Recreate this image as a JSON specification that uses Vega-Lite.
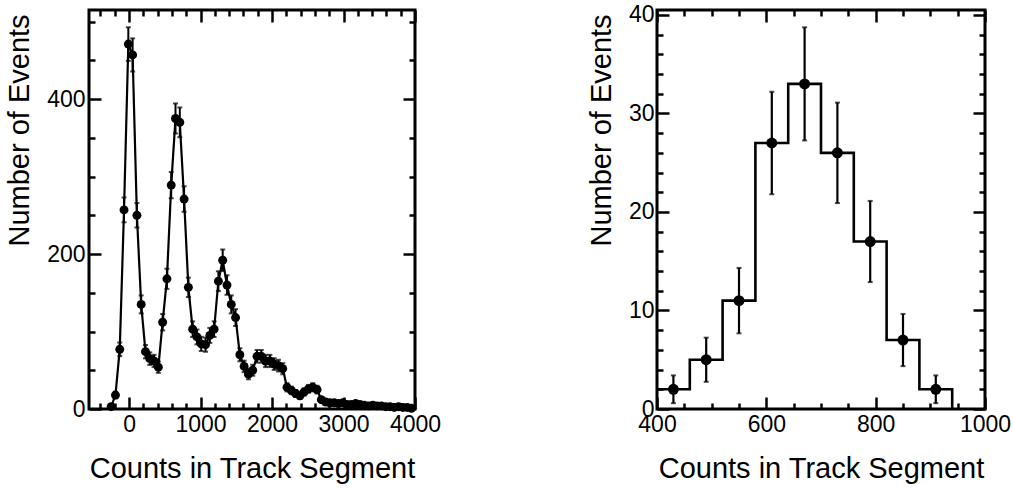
{
  "$schema": "https://vega.github.io/schema/vega-lite/v6.json",
  "background": "white",
  "padding": {"left": 4, "top": 2, "right": 5, "bottom": 5},
  "spacing": 142,
  "config": {
    "view": {"stroke": "black", "strokeWidth": 3},
    "font": "Liberation Sans",
    "axis": {"domain": false, "grid": false, "tickColor": "black", "tickWidth": 2.5, "labelFont": "Liberation Sans", "labelFontSize": 23, "labelColor": "black", "titleFont": "Liberation Sans", "titleFontSize": 29, "titleFontWeight": "normal", "titleColor": "black", "labelFlush": false, "labelOverlap": false, "format": "d"}
  },
  "datasets": {
    "left": [
      {"x": -250, "y": 3, "lo": 1.3, "hi": 4.7},
      {"x": -190, "y": 18, "lo": 13.8, "hi": 22.2},
      {"x": -130, "y": 77, "lo": 68.2, "hi": 85.8},
      {"x": -70, "y": 257, "lo": 241, "hi": 273},
      {"x": -10, "y": 471, "lo": 449.3, "hi": 492.7},
      {"x": 50, "y": 457, "lo": 435.6, "hi": 478.4},
      {"x": 110, "y": 250, "lo": 234.2, "hi": 265.8},
      {"x": 170, "y": 135, "lo": 123.4, "hi": 146.6},
      {"x": 230, "y": 74, "lo": 65.4, "hi": 82.6},
      {"x": 290, "y": 65, "lo": 56.9, "hi": 73.1},
      {"x": 350, "y": 62, "lo": 54.1, "hi": 69.9},
      {"x": 410, "y": 54, "lo": 46.7, "hi": 61.3},
      {"x": 470, "y": 112, "lo": 101.4, "hi": 122.6},
      {"x": 530, "y": 168, "lo": 155, "hi": 181},
      {"x": 590, "y": 289, "lo": 272, "hi": 306},
      {"x": 650, "y": 375, "lo": 355.6, "hi": 394.4},
      {"x": 710, "y": 370, "lo": 350.8, "hi": 389.2},
      {"x": 770, "y": 271, "lo": 254.5, "hi": 287.5},
      {"x": 830, "y": 157, "lo": 144.5, "hi": 169.5},
      {"x": 890, "y": 103, "lo": 92.9, "hi": 113.1},
      {"x": 950, "y": 93, "lo": 83.4, "hi": 102.6},
      {"x": 1010, "y": 84, "lo": 74.8, "hi": 93.2},
      {"x": 1070, "y": 83, "lo": 73.9, "hi": 92.1},
      {"x": 1130, "y": 95, "lo": 85.3, "hi": 104.7},
      {"x": 1190, "y": 103, "lo": 92.9, "hi": 113.1},
      {"x": 1250, "y": 165, "lo": 152.2, "hi": 177.8},
      {"x": 1310, "y": 192, "lo": 178.1, "hi": 205.9},
      {"x": 1370, "y": 160, "lo": 147.4, "hi": 172.6},
      {"x": 1430, "y": 135, "lo": 123.4, "hi": 146.6},
      {"x": 1490, "y": 118, "lo": 107.1, "hi": 128.9},
      {"x": 1550, "y": 70, "lo": 61.6, "hi": 78.4},
      {"x": 1610, "y": 55, "lo": 47.6, "hi": 62.4},
      {"x": 1670, "y": 45, "lo": 38.3, "hi": 51.7},
      {"x": 1730, "y": 50, "lo": 42.9, "hi": 57.1},
      {"x": 1790, "y": 68, "lo": 59.8, "hi": 76.2},
      {"x": 1850, "y": 68, "lo": 59.8, "hi": 76.2},
      {"x": 1910, "y": 62, "lo": 54.1, "hi": 69.9},
      {"x": 1970, "y": 62, "lo": 54.1, "hi": 69.9},
      {"x": 2030, "y": 58, "lo": 50.4, "hi": 65.6},
      {"x": 2090, "y": 56, "lo": 48.5, "hi": 63.5},
      {"x": 2150, "y": 52, "lo": 44.8, "hi": 59.2},
      {"x": 2210, "y": 28, "lo": 22.7, "hi": 33.3},
      {"x": 2270, "y": 24, "lo": 19.1, "hi": 28.9},
      {"x": 2330, "y": 20, "lo": 15.5, "hi": 24.5},
      {"x": 2390, "y": 17, "lo": 12.9, "hi": 21.1},
      {"x": 2450, "y": 22, "lo": 17.3, "hi": 26.7},
      {"x": 2510, "y": 26, "lo": 20.9, "hi": 31.1},
      {"x": 2570, "y": 28, "lo": 22.7, "hi": 33.3},
      {"x": 2630, "y": 25, "lo": 20, "hi": 30},
      {"x": 2690, "y": 12, "lo": 8.5, "hi": 15.5},
      {"x": 2750, "y": 9, "lo": 6, "hi": 12},
      {"x": 2810, "y": 8, "lo": 5.2, "hi": 10.8},
      {"x": 2870, "y": 8, "lo": 5.2, "hi": 10.8},
      {"x": 2930, "y": 7, "lo": 4.4, "hi": 9.6},
      {"x": 2990, "y": 8, "lo": 5.2, "hi": 10.8},
      {"x": 3050, "y": 6, "lo": 3.6, "hi": 8.4},
      {"x": 3110, "y": 6, "lo": 3.6, "hi": 8.4},
      {"x": 3170, "y": 7, "lo": 4.4, "hi": 9.6},
      {"x": 3230, "y": 6, "lo": 3.6, "hi": 8.4},
      {"x": 3290, "y": 5, "lo": 2.8, "hi": 7.2},
      {"x": 3350, "y": 4, "lo": 2, "hi": 6},
      {"x": 3410, "y": 5, "lo": 2.8, "hi": 7.2},
      {"x": 3470, "y": 4, "lo": 2, "hi": 6},
      {"x": 3530, "y": 4, "lo": 2, "hi": 6},
      {"x": 3590, "y": 3, "lo": 1.3, "hi": 4.7},
      {"x": 3650, "y": 3, "lo": 1.3, "hi": 4.7},
      {"x": 3710, "y": 2, "lo": 0.6, "hi": 3.4},
      {"x": 3770, "y": 3, "lo": 1.3, "hi": 4.7},
      {"x": 3830, "y": 2, "lo": 0.6, "hi": 3.4},
      {"x": 3890, "y": 2, "lo": 0.6, "hi": 3.4},
      {"x": 3950, "y": 1, "lo": 0, "hi": 2}
    ],
    "rightPts": [
      {"x": 430, "y": 2, "lo": 0.59, "hi": 3.41},
      {"x": 490, "y": 5, "lo": 2.76, "hi": 7.24},
      {"x": 550, "y": 11, "lo": 7.68, "hi": 14.32},
      {"x": 610, "y": 27, "lo": 21.8, "hi": 32.2},
      {"x": 670, "y": 33, "lo": 27.26, "hi": 38.74},
      {"x": 730, "y": 26, "lo": 20.9, "hi": 31.1},
      {"x": 790, "y": 17, "lo": 12.88, "hi": 21.12},
      {"x": 850, "y": 7, "lo": 4.35, "hi": 9.65},
      {"x": 910, "y": 2, "lo": 0.59, "hi": 3.41}
    ],
    "rightSteps": [
      {"edge": 400, "count": 2},
      {"edge": 460, "count": 5},
      {"edge": 520, "count": 11},
      {"edge": 580, "count": 27},
      {"edge": 640, "count": 33},
      {"edge": 700, "count": 26},
      {"edge": 760, "count": 17},
      {"edge": 820, "count": 7},
      {"edge": 880, "count": 2},
      {"edge": 940, "count": 0}
    ]
  },
  "hconcat": [
    {
      "width": 326,
      "height": 399,
      "resolve": {"axis": {"x": "independent", "y": "independent"}},
      "layer": [
        {
          "data": {"name": "left"},
          "mark": {"type": "line", "color": "black", "strokeWidth": 2.2},
          "encoding": {
            "x": {"field": "x", "type": "quantitative", "scale": {"domain": [-560, 4000], "nice": false, "zero": false},
              "axis": {"orient": "bottom", "values": [0, 1000, 2000, 3000, 4000], "tickSize": -12, "labelPadding": 16, "title": "Counts in Track Segment", "titlePadding": 18}},
            "y": {"field": "y", "type": "quantitative", "scale": {"domain": [0, 515], "nice": false},
              "axis": {"orient": "left", "values": [0, 200, 400], "tickSize": -12, "labelPadding": 16, "title": "Number of Events", "titlePadding": 12, "titleY": 236, "titleAlign": "left"}}
          }
        },
        {
          "data": {"name": "left"},
          "mark": {"type": "rule", "color": "black", "strokeWidth": 2},
          "encoding": {
            "x": {"field": "x", "type": "quantitative", "scale": {"domain": [-560, 4000], "nice": false, "zero": false},
              "axis": {"orient": "bottom", "values": [-400, -200, 200, 400, 600, 800, 1200, 1400, 1600, 1800, 2200, 2400, 2600, 2800, 3200, 3400, 3600, 3800], "tickSize": -6, "labels": false, "title": null}},
            "y": {"field": "lo", "type": "quantitative", "scale": {"domain": [0, 515], "nice": false},
              "axis": {"orient": "left", "values": [50, 100, 150, 250, 300, 350, 450, 500], "tickSize": -6, "labels": false, "title": null}},
            "y2": {"field": "hi"}
          }
        },
        {
          "data": {"name": "left"},
          "mark": {"type": "point", "shape": "circle", "filled": true, "color": "black", "opacity": 1, "size": 80},
          "encoding": {
            "x": {"field": "x", "type": "quantitative", "scale": {"domain": [-560, 4000], "nice": false, "zero": false},
              "axis": {"orient": "top", "values": [0, 1000, 2000, 3000, 4000], "tickSize": -12, "labels": false, "title": null}},
            "y": {"field": "y", "type": "quantitative", "scale": {"domain": [0, 515], "nice": false},
              "axis": {"orient": "right", "values": [0, 200, 400], "tickSize": -12, "labels": false, "title": null}}
          }
        },
        {
          "data": {"name": "left"},
          "mark": {"type": "tick", "orient": "horizontal", "color": "black", "size": 5, "thickness": 2},
          "encoding": {
            "x": {"field": "x", "type": "quantitative", "scale": {"domain": [-560, 4000], "nice": false, "zero": false},
              "axis": {"orient": "top", "values": [-400, -200, 200, 400, 600, 800, 1200, 1400, 1600, 1800, 2200, 2400, 2600, 2800, 3200, 3400, 3600, 3800], "tickSize": -6, "labels": false, "title": null}},
            "y": {"field": "hi", "type": "quantitative", "scale": {"domain": [0, 515], "nice": false},
              "axis": {"orient": "right", "values": [50, 100, 150, 250, 300, 350, 450, 500], "tickSize": -6, "labels": false, "title": null}}
          }
        },
        {
          "data": {"name": "left"},
          "mark": {"type": "tick", "orient": "horizontal", "color": "black", "size": 5, "thickness": 2},
          "encoding": {
            "x": {"field": "x", "type": "quantitative", "scale": {"domain": [-560, 4000], "nice": false, "zero": false}, "axis": null},
            "y": {"field": "lo", "type": "quantitative", "scale": {"domain": [0, 515], "nice": false}, "axis": null}
          }
        }
      ]
    },
    {
      "width": 328,
      "height": 399,
      "resolve": {"axis": {"x": "independent", "y": "independent"}},
      "layer": [
        {
          "data": {"name": "rightSteps"},
          "mark": {"type": "line", "color": "black", "strokeWidth": 2.6, "interpolate": "step-after"},
          "encoding": {
            "x": {"field": "edge", "type": "quantitative", "scale": {"domain": [400, 1000], "nice": false, "zero": false},
              "axis": {"orient": "bottom", "values": [400, 600, 800, 1000], "tickSize": -12, "labelPadding": 16, "title": "Counts in Track Segment", "titlePadding": 18}},
            "y": {"field": "count", "type": "quantitative", "scale": {"domain": [0, 40.5], "nice": false},
              "axis": {"orient": "left", "values": [0, 10, 20, 30, 40], "tickSize": -12, "labelPadding": 15, "title": "Number of Events", "titlePadding": 12, "titleY": 236, "titleAlign": "left"}}
          }
        },
        {
          "data": {"name": "rightPts"},
          "mark": {"type": "rule", "color": "black", "strokeWidth": 2.2},
          "encoding": {
            "x": {"field": "x", "type": "quantitative", "scale": {"domain": [400, 1000], "nice": false, "zero": false},
              "axis": {"orient": "bottom", "values": [450, 500, 550, 650, 700, 750, 850, 900, 950], "tickSize": -6, "labels": false, "title": null}},
            "y": {"field": "lo", "type": "quantitative", "scale": {"domain": [0, 40.5], "nice": false},
              "axis": {"orient": "left", "values": [2, 4, 6, 8, 12, 14, 16, 18, 22, 24, 26, 28, 32, 34, 36, 38], "tickSize": -6, "labels": false, "title": null}},
            "y2": {"field": "hi"}
          }
        },
        {
          "data": {"name": "rightPts"},
          "mark": {"type": "point", "shape": "circle", "filled": true, "color": "black", "opacity": 1, "size": 120},
          "encoding": {
            "x": {"field": "x", "type": "quantitative", "scale": {"domain": [400, 1000], "nice": false, "zero": false},
              "axis": {"orient": "top", "values": [400, 600, 800, 1000], "tickSize": -12, "labels": false, "title": null}},
            "y": {"field": "y", "type": "quantitative", "scale": {"domain": [0, 40.5], "nice": false},
              "axis": {"orient": "right", "values": [0, 10, 20, 30, 40], "tickSize": -12, "labels": false, "title": null}}
          }
        },
        {
          "data": {"name": "rightPts"},
          "mark": {"type": "tick", "orient": "horizontal", "color": "black", "size": 5, "thickness": 2},
          "encoding": {
            "x": {"field": "x", "type": "quantitative", "scale": {"domain": [400, 1000], "nice": false, "zero": false},
              "axis": {"orient": "top", "values": [450, 500, 550, 650, 700, 750, 850, 900, 950], "tickSize": -6, "labels": false, "title": null}},
            "y": {"field": "hi", "type": "quantitative", "scale": {"domain": [0, 40.5], "nice": false},
              "axis": {"orient": "right", "values": [2, 4, 6, 8, 12, 14, 16, 18, 22, 24, 26, 28, 32, 34, 36, 38], "tickSize": -6, "labels": false, "title": null}}
          }
        },
        {
          "data": {"name": "rightPts"},
          "mark": {"type": "tick", "orient": "horizontal", "color": "black", "size": 5, "thickness": 2},
          "encoding": {
            "x": {"field": "x", "type": "quantitative", "scale": {"domain": [400, 1000], "nice": false, "zero": false}, "axis": null},
            "y": {"field": "lo", "type": "quantitative", "scale": {"domain": [0, 40.5], "nice": false}, "axis": null}
          }
        }
      ]
    }
  ]
}
